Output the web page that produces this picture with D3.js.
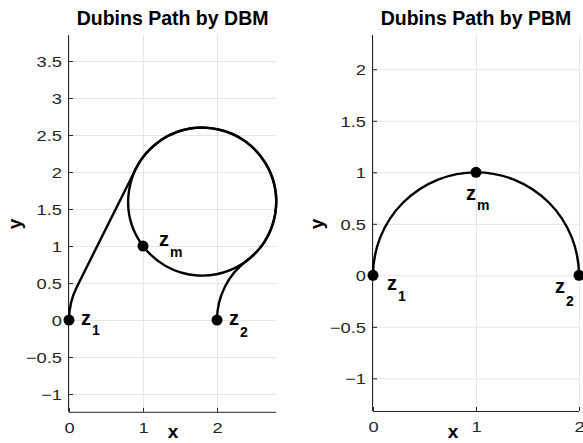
<!DOCTYPE html>
<html>
<head>
<meta charset="utf-8">
<script src="https://cdn.jsdelivr.net/npm/d3@7"></script>
<style>
  body { margin: 0; background: #fff; }
  svg { display: block; font-family: "Liberation Sans", Arial, sans-serif; }
  .grid line { stroke: #e6e6e6; stroke-width: 1; }
  .grid path { display: none; }
  .axis path, .axis line { stroke: #262626; }
  .axis text { fill: #262626; font-size: 15px; }
</style>
</head>
<body>
<svg id="canvas" width="583" height="443"></svg>
<script>
// points of the path (same for both panels)
let pointNames = ['1', 'm', '2']
let pointX = [0, 1, 2]
let pointY = [0, 1, 0]

// DBM path: arcs in data units, angles in degrees (math convention)
// consecutive arcs are joined by straight segments
let dbmPart1 = [
  { cx: 1, cy: 0, r: 1, a0: 180, a1: 153.43, cw: true },
  { cx: 1.8, cy: 1.6, r: 1, a0: 153.43, a1: -143.13, cw: true }
]
let dbmPart2 = [
  { cx: 1.8, cy: 1.6, r: 1, a0: -143.13, a1: -53.13, cw: true },
  { cx: 3, cy: 0, r: 1, a0: 126.87, a1: 180, cw: false }
]
// PBM path
let pbmPart = [
  { cx: 1, cy: 0, r: 1, a0: 180, a1: 90, cw: true },
  { cx: 1, cy: 0, r: 1, a0: 90, a1: 0, cw: true }
]

let dbmXDomain = [0, 2.8], dbmYDomain = [-1.24, 3.85]
let dbmXTicks = [0, 1, 2]
let dbmYTicks = [-1, -0.5, 0, 0.5, 1, 1.5, 2, 2.5, 3, 3.5]

let pbmXDomain = [0, 2], pbmYDomain = [-1.317, 2.333]
let pbmXTicks = [0, 1, 2]
let pbmYTicks = [-1, -0.5, 0, 0.5, 1, 1.5, 2]

let svg = d3.select('#canvas')

let drawPanel = (opt) => {
  let x = d3.scaleLinear().domain(opt.xDomain).range([opt.left, opt.right])
  let y = d3.scaleLinear().domain(opt.yDomain).range([opt.bottom, opt.top])
  let g = svg.append('g')
  let w = opt.right - opt.left, h = opt.bottom - opt.top

  // grid
  g.append('g').attr('class', 'grid')
    .attr('transform', 'translate(0,' + opt.bottom + ')')
    .call(d3.axisBottom(x).tickValues(opt.xTicks).tickSize(-h).tickFormat(''))
  g.append('g').attr('class', 'grid')
    .attr('transform', 'translate(' + opt.left + ',0)')
    .call(d3.axisLeft(y).tickValues(opt.yTicks).tickSize(-w).tickFormat(''))

  // axes (ticks inside)
  let sx = 1.22
  let xa = g.append('g').attr('class', 'axis')
    .attr('transform', 'translate(0,' + opt.bottom + ')')
    .call(d3.axisBottom(x).tickValues(opt.xTicks).tickSizeInner(-4).tickSizeOuter(0).tickPadding(0).tickFormat(d3.format('')))
  xa.selectAll('text').attr('y', 21).attr('dy', null)
    .attr('transform', 'scale(' + sx + ',1)')
  xa.selectAll('.tick').each(function () {
    let t = d3.select(this)
  })
  let ya = g.append('g').attr('class', 'axis')
    .attr('transform', 'translate(' + opt.left + ',0)')
    .call(d3.axisLeft(y).tickValues(opt.yTicks).tickSizeInner(-4).tickSizeOuter(0).tickFormat(d3.format('')))
  ya.selectAll('text').attr('x', -7 / sx).attr('dy', '0.36em')
    .attr('transform', 'scale(' + sx + ',1)')
  xa.select('.domain').attr('d', 'M' + opt.left + ',0.5H' + opt.right)
  ya.select('.domain').attr('d', 'M-0.5,' + opt.bottom + 'V' + opt.top)

  // path
  let k = x(1) - x(0)
  let rad = (a) => -a * Math.PI / 180
  opt.parts.forEach((part) => {
    let p = d3.path()
    part.forEach((s, i) => {
      let sx0 = x(s.cx) + s.r * k * Math.cos(rad(s.a0))
      let sy0 = y(s.cy) + s.r * k * Math.sin(rad(s.a0))
      if (i === 0) p.moveTo(sx0, sy0)
      p.arc(x(s.cx), y(s.cy), s.r * k, rad(s.a0), rad(s.a1), !s.cw)
    })
    g.append('path').attr('d', p.toString())
      .attr('fill', 'none').attr('stroke', '#000').attr('stroke-width', 2.4)
  })

  // points
  g.selectAll('circle.pt').data(pointX).enter().append('circle')
    .attr('class', 'pt')
    .attr('cx', (d) => x(d))
    .attr('cy', (d, i) => y(pointY[i]))
    .attr('r', 5.5).attr('fill', '#000')

  // point labels
  pointNames.forEach((name, i) => {
    let off = opt.labelOff[i]
    let t = g.append('text')
      .attr('x', x(pointX[i]) + off[0])
      .attr('y', y(pointY[i]) + off[1])
      .attr('font-weight', 'bold').attr('font-size', 20).attr('fill', '#000')
      .text('z')
    t.append('tspan').attr('dy', off[2]).attr('dx', 1).attr('font-size', 14).text(name)
  })

  // title and axis labels
  g.append('text').attr('x', (opt.left + opt.right) / 2).attr('y', 25)
    .attr('text-anchor', 'middle').attr('font-weight', 'bold').attr('font-size', 19.5)
    .attr('fill', '#000').text(opt.title)
  g.append('text').attr('x', opt.xLabelX).attr('y', 438)
    .attr('text-anchor', 'middle').attr('font-weight', 'bold').attr('font-size', 19)
    .attr('fill', '#000').text('x')
  g.append('text').attr('transform', 'translate(' + opt.yLabelX + ',224) rotate(-90)')
    .attr('text-anchor', 'middle').attr('font-weight', 'bold').attr('font-size', 19)
    .attr('fill', '#000').text('y')
}

drawPanel({
  left: 69, right: 276.2, top: 35.1, bottom: 411.8,
  xDomain: dbmXDomain, yDomain: dbmYDomain, xTicks: dbmXTicks, yTicks: dbmYTicks,
  parts: [dbmPart1, dbmPart2],
  labelOff: [[12, 5, 10], [16, 0, 11], [12, 5, 12]],
  title: 'Dubins Path by DBM', xLabelX: 173, yLabelX: 21
})

drawPanel({
  left: 373, right: 579, top: 35, bottom: 411,
  xDomain: pbmXDomain, yDomain: pbmYDomain, xTicks: pbmXTicks, yTicks: pbmYTicks,
  parts: [pbmPart],
  labelOff: [[14, 15, 11], [-10, 28, 10], [-24, 18, 13]],
  title: 'Dubins Path by PBM', xLabelX: 453, yLabelX: 323
})
</script>
</body>
</html>
